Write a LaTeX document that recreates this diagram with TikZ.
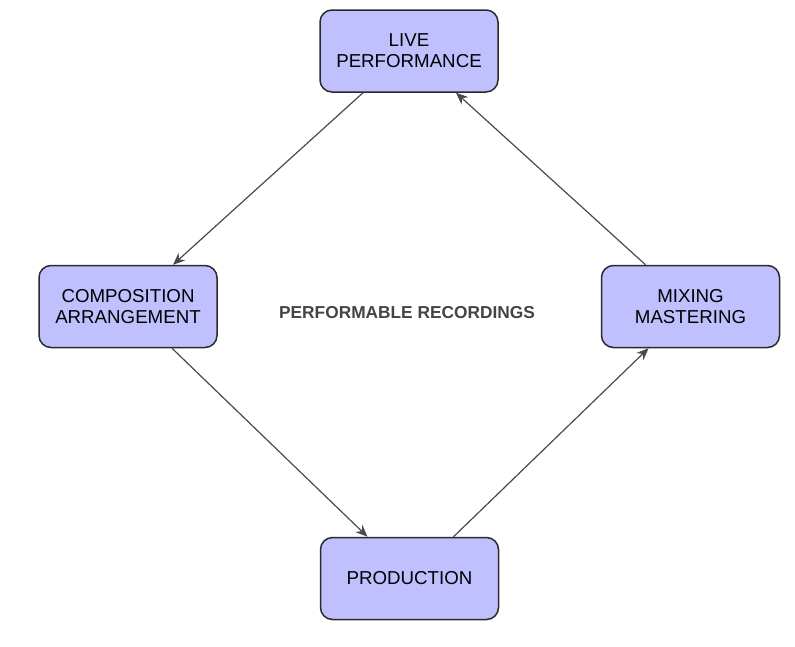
\documentclass[tikz,border=0pt]{standalone}
\usepackage{fontspec}
\setmainfont{Liberation Sans}
\usetikzlibrary{arrows.meta}
\definecolor{boxfill}{HTML}{C0C0FF}
\definecolor{boxline}{HTML}{2A2A2A}
\definecolor{flow}{HTML}{4A4A4A}
\definecolor{caption}{HTML}{444444}
\begin{document}
\begin{tikzpicture}[x=1pt,y=-1pt,
  stage/.style={draw=boxline, fill=boxfill, line width=1.5pt, rounded corners=12pt,
    minimum width=178pt, minimum height=82pt, align=center,
    font=\fontsize{18.7}{21}\selectfont, inner sep=0pt},
  flowarrow/.style={draw=flow, line width=1.2pt, -{Stealth[length=12pt,width=10pt]}}]
  \useasboundingbox (0,0) rectangle (795,646);

  % the four stages of the cycle
  \node[stage] (live) at (409,51) {LIVE\\PERFORMANCE};
  \node[stage] (comp) at (128,306.5) {COMPOSITION\\ARRANGEMENT};
  \node[stage] (mix)  at (690.5,306.5) {MIXING\\MASTERING};
  \node[stage] (prod) at (409.5,578.5) {PRODUCTION};

  % centre caption
  \node[font=\bfseries\fontsize{17.3}{20}\selectfont, text=caption] (core) at (407,313) {PERFORMABLE RECORDINGS};

  % connectors around the cycle
  \draw[flowarrow] ([xshift=-46pt]live.south) -- ([xshift=45pt]comp.north);
  \draw[flowarrow] ([xshift=44pt]comp.south) -- ([xshift=-42pt]prod.north);
  \draw[flowarrow] ([xshift=44pt]prod.north) -- ([xshift=-42pt]mix.south);
  \draw[flowarrow] ([xshift=-45pt]mix.north) -- ([xshift=47pt]live.south);
\end{tikzpicture}
\end{document}
